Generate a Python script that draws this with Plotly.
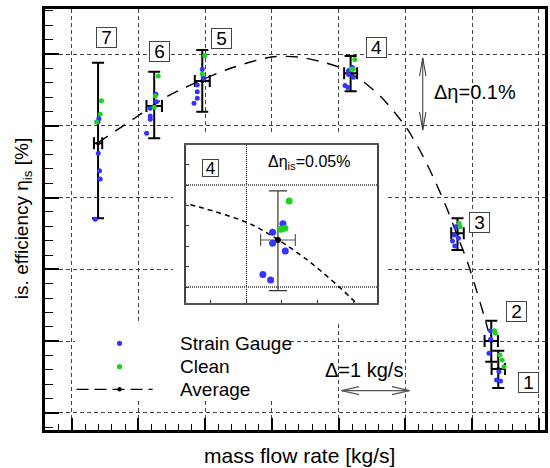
import plotly.graph_objects as go

# ---------------- data ----------------
# fitted efficiency curve (dashed), mass flow [kg/s, relative], eta [%, relative]
curve_x = [0.387, 1.013, 1.415, 2.309, 2.994, 3.396, 3.738, 4.036, 4.334, 4.632,
           5.004, 5.213, 5.436, 5.630, 5.779, 5.928, 6.062, 6.182, 6.241]
curve_y = [0.3760, 0.4150, 0.4401, 0.4777, 0.4958, 0.4958, 0.4893, 0.4805, 0.4638, 0.4405,
           0.3987, 0.3663, 0.3245, 0.2827, 0.2465, 0.2103, 0.1713, 0.1337, 0.1142]

# operating point averages (points 1..7)
op_labels = ["1", "2", "3", "4", "5", "6", "7"]
avg_x = [6.390, 6.285, 5.779, 4.178, 1.956, 1.236, 0.395]
avg_y = [0.0613, 0.1003, 0.2503, 0.4731, 0.4624, 0.4276, 0.3756]
avg_ey_plus = [0.0255, 0.0283, 0.0209, 0.0242, 0.0432, 0.0478, 0.1123]
avg_ey_minus = [0.0265, 0.0288, 0.0233, 0.0249, 0.0428, 0.0451, 0.1045]
avg_ex = [0.100, 0.100, 0.094, 0.097, 0.112, 0.116, 0.062]

# Strain Gauge measurements
sg_x = [6.364, 6.424, 6.400,
        6.275, 6.275, 6.251,
        5.754, 5.730, 5.794, 5.704, 5.739,
        4.148, 4.148, 4.206, 4.219, 4.094, 4.137,
        1.956, 1.981, 1.881, 1.881, 1.881, 1.832,
        1.262, 1.270, 1.177, 1.177, 1.177, 1.122,
        0.407, 0.395, 0.398, 0.417, 0.427, 0.353]
sg_y = [0.0460, 0.0446, 0.0575,
        0.1146, 0.1026, 0.0831,
        0.2595, 0.2479, 0.2433, 0.2396, 0.2326,
        0.4769, 0.4715, 0.4811, 0.4677, 0.4562, 0.4534,
        0.4787, 0.4662, 0.4568, 0.4475, 0.4383, 0.4313,
        0.4439, 0.4336, 0.4244, 0.4136, 0.4091, 0.3896,
        0.4102, 0.4060, 0.3617, 0.3375, 0.3259, 0.2698]

# Clean measurements
cl_x = [6.474, 6.415, 6.449,
        6.334, 6.349,
        5.804, 5.819,
        4.241, 4.194, 4.217,
        1.991, 1.956,
        1.296, 1.251, 1.236,
        0.447, 0.427, 0.372]
cl_y = [0.0645, 0.0808, 0.0738,
        0.1146, 0.1110,
        0.2642, 0.2595,
        0.4923, 0.4784, 0.4789,
        0.4976, 0.4721,
        0.4694, 0.4415, 0.4258,
        0.4350, 0.4160, 0.4053]

# ---------------- geometry helpers ----------------
W, H = 550, 468
ML, MR, MT, MB = 45, 2, 9, 38
PW, PH = W - ML - MR, H - MT - MB
XR = [-0.4, 7.09]
YR = [-0.0237, 0.5627]


def PX(px):
    return (px - ML) / PW


def PY(py):
    return (H - MB - py) / PH


def DX(px):
    return XR[0] + PX(px) * (XR[1] - XR[0])


def DY(py):
    return YR[0] + PY(py) * (YR[1] - YR[0])


FONT = "Liberation Sans, Arial, sans-serif"
BLUE = "#3434ff"
GREEN = "#22d022"

fig = go.Figure()

for xa, ya, inset in [("x", "y", False), ("x2", "y2", True)]:
    fig.add_trace(go.Scatter(
        x=curve_x, y=curve_y, xaxis=xa, yaxis=ya, mode="lines",
        line=dict(color="black", width=1.5 if inset else 1.4,
                  dash="5px,4px" if inset else "12px,9px", shape="spline", smoothing=0.8),
        hoverinfo="skip"))
    fig.add_trace(go.Scatter(
        x=avg_x, y=avg_y, xaxis=xa, yaxis=ya, mode="markers",
        marker=dict(color="black", size=6 if inset else 4),
        error_y=dict(type="data", symmetric=False, array=avg_ey_plus, arrayminus=avg_ey_minus,
                     color="#333" if inset else "black", thickness=1.2 if inset else 2,
                     width=9 if inset else 6),
        error_x=dict(type="data", array=avg_ex,
                     color="#555" if inset else "black", thickness=1.2 if inset else 2,
                     width=6)))
    fig.add_trace(go.Scatter(
        x=sg_x, y=sg_y, xaxis=xa, yaxis=ya, mode="markers",
        marker=dict(color=BLUE, size=7 if inset else 5)))
    fig.add_trace(go.Scatter(
        x=cl_x, y=cl_y, xaxis=xa, yaxis=ya, mode="markers",
        marker=dict(color=GREEN, size=7 if inset else 5)))

fig.update_layout(
    width=W, height=H, margin=dict(l=ML, r=MR, t=MT, b=MB),
    paper_bgcolor="white", plot_bgcolor="white", showlegend=False,
    font=dict(family=FONT, color="black", size=19),
    xaxis=dict(domain=[0, 1], anchor="y", range=XR, showticklabels=False,
               ticks="inside", ticklen=12, tickwidth=2, tickcolor="black", tick0=0, dtick=1,
               showgrid=True, gridcolor="#444", gridwidth=1, griddash="4px,3px",
               zeroline=False, showline=True, linecolor="black", linewidth=3, mirror=True,
               minor=dict(tick0=0, dtick=0.2, ticks="inside", ticklen=6, tickwidth=1,
                          tickcolor="black", showgrid=False)),
    yaxis=dict(domain=[0, 1], anchor="x", range=YR, showticklabels=False,
               ticks="inside", ticklen=14, tickwidth=2, tickcolor="black", tick0=0, dtick=0.1,
               showgrid=True, gridcolor="#444", gridwidth=1, griddash="4px,3px",
               zeroline=False, showline=True, linecolor="black", linewidth=3, mirror=True,
               minor=dict(tick0=0, dtick=0.02, ticks="inside", ticklen=8, tickwidth=1,
                          tickcolor="black", showgrid=False)),
    xaxis2=dict(domain=[PX(187.3), PX(379.3)], anchor="y2", range=[3.667, 4.733],
                showticklabels=False, ticks="inside", ticklen=3, tickwidth=1, tickcolor="#333",
                tick0=0, dtick=1, showgrid=True, gridcolor="black", gridwidth=1,
                griddash="1px,1px", zeroline=False, showline=True, linecolor="#555",
                linewidth=2, mirror=True,
                minor=dict(tick0=0, dtick=0.2, ticks="inside", ticklen=3, tickwidth=1,
                           tickcolor="#333", showgrid=False)),
    yaxis2=dict(domain=[PY(303.3), PY(145)], anchor="x2", range=[0.4420, 0.5198],
                showticklabels=False, ticks="inside", ticklen=3, tickwidth=1, tickcolor="#333",
                tick0=0, dtick=0.05, showgrid=True, gridcolor="#666", gridwidth=2,
                griddash="1px,1px", zeroline=False, showline=True, linecolor="#444",
                linewidth=2, mirror=True,
                minor=dict(tick0=0, dtick=0.01, ticks="inside", ticklen=3, tickwidth=1,
                           tickcolor="#333", showgrid=False)),
)

shapes = []
# white areas hiding the main grid behind the inset and the legend
for (x0, y0, x1, y1) in [(174, 133, 387, 321), (75, 323, 290, 398)]:
    shapes.append(dict(type="rect", xref="x", yref="y", layer="between",
                       x0=DX(x0), x1=DX(x1), y0=DY(y1), y1=DY(y0),
                       fillcolor="white", line=dict(width=0)))


def path(points):
    s = ""
    for i, (px, py) in enumerate(points):
        s += ("M" if i == 0 else "L") + f"{PX(px):.5f},{PY(py):.5f} "
    return s


# delta-eta arrow
ac = "#333"
shapes.append(dict(type="path", xref="paper", yref="paper", layer="above",
                   path=path([(425, 58), (425, 130)]), line=dict(color=ac, width=1)))
shapes.append(dict(type="path", xref="paper", yref="paper", layer="above",
                   path=path([(421.8, 76), (425, 58), (428.2, 76)]), line=dict(color=ac, width=1)))
shapes.append(dict(type="path", xref="paper", yref="paper", layer="above",
                   path=path([(421.8, 112), (425, 130), (428.2, 112)]), line=dict(color=ac, width=1)))
# delta-m arrow
ac2 = "#555"
shapes.append(dict(type="path", xref="paper", yref="paper", layer="above",
                   path=path([(343.3, 390.7), (411.7, 390.7)]), line=dict(color=ac2, width=1.2)))
shapes.append(dict(type="path", xref="paper", yref="paper", layer="above",
                   path=path([(361, 386.7), (343.3, 390.7), (361, 394.7)]), line=dict(color=ac2, width=1.2)))
shapes.append(dict(type="path", xref="paper", yref="paper", layer="above",
                   path=path([(394, 386.7), (411.7, 390.7), (394, 394.7)]), line=dict(color=ac2, width=1.2)))


# custom legend symbols
def dot(px, py, r, col):
    return dict(type="circle", xref="paper", yref="paper", layer="above",
                x0=PX(px - r), x1=PX(px + r), y0=PY(py + r), y1=PY(py - r),
                fillcolor=col, line=dict(width=0))


shapes.append(dot(120, 343.3, 2.6, BLUE))
shapes.append(dot(120, 366.7, 2.6, GREEN))
shapes.append(dict(type="line", xref="paper", yref="paper", layer="above",
                   x0=PX(76.7), x1=PX(153.3), y0=PY(389.3), y1=PY(389.3),
                   line=dict(color="black", width=1.3, dash="12px,6px")))
shapes.append(dot(120, 389.3, 2.2, "black"))

fig.update_layout(shapes=shapes)

ann = []
label_pos = {"1": (531.3, 382.5), "2": (519.5, 311.5), "3": (482.5, 222), "4": (378.7, 47.3),
             "5": (223, 38), "6": (159.7, 51), "7": (106.7, 37.5)}
for lab in op_labels:
    px, py = label_pos[lab]
    ann.append(dict(xref="paper", yref="paper", x=PX(px), y=PY(py), text=lab, showarrow=False,
                    xanchor="center", yanchor="middle", font=dict(size=19),
                    bgcolor="white", bordercolor="#444", borderwidth=1, borderpad=1,
                    width=17, height=17))
# inset label
ann.append(dict(xref="paper", yref="paper", x=PX(211.7), y=PY(168), text="4", showarrow=False,
                xanchor="center", yanchor="middle", font=dict(size=17),
                bgcolor="white", bordercolor="#444", borderwidth=1, borderpad=1,
                width=13, height=14))
ann.append(dict(xref="paper", yref="paper", x=PX(311), y=PY(162), text="Δη<sub>is</sub>=0.05%",
                showarrow=False, xanchor="center", yanchor="middle", font=dict(size=16)))
ann.append(dict(xref="paper", yref="paper", x=PX(478), y=PY(91.5), text="Δη=0.1%",
                showarrow=False, xanchor="center", yanchor="middle", font=dict(size=20)))
ann.append(dict(xref="paper", yref="paper", x=PX(366), y=PY(370), text="Δ=1 kg/s",
                showarrow=False, xanchor="center", yanchor="middle", font=dict(size=20)))
for txt, py in [("Strain Gauge", 343.3), ("Clean", 366.7), ("Average", 389.3)]:
    ann.append(dict(xref="paper", yref="paper", x=PX(178.3), y=PY(py), text=txt,
                    showarrow=False, xanchor="left", yanchor="middle", font=dict(size=19)))
# axis titles
ann.append(dict(xref="paper", yref="paper", x=PX(301), y=PY(455), text="mass flow rate [kg/s]",
                showarrow=False, xanchor="center", yanchor="middle", font=dict(size=21)))
ann.append(dict(xref="paper", yref="paper", x=PX(23), y=PY(219), text="is. efficiency η<sub>is</sub> [%]",
                showarrow=False, xanchor="center", yanchor="middle", textangle=-90,
                font=dict(size=19)))
fig.update_layout(annotations=ann)

fig.write_html("out.html")
